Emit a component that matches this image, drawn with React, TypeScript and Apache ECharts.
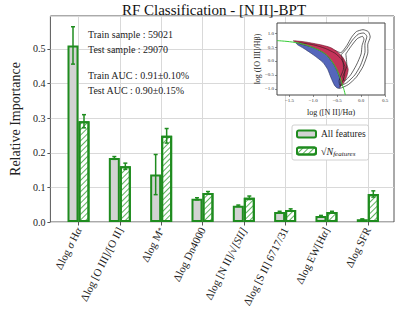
import React, { useEffect, useRef } from "react";
import * as echarts from "echarts";

// ---------- data ----------
const categoryKeys = ["sigma", "o3o2", "mstar", "dn4000", "n2s2", "s2ratio", "ewha", "sfr"];
const categoryLabels = [
  "{n|Δlog }{i|σ}{n| H}{i|α}",
  "{n|Δlog [O III]/[O II]}",
  "{n|Δlog M}{s|*}",
  "{n|Δlog Dn4000}",
  "{n|Δlog [N II]/√}{i|[SII]}",
  "{n|Δlog [S II] 6717/31}",
  "{n|Δlog EW[H}{i|α}{n|]}",
  "{n|Δlog SFR}",
];
const allFeatures = [0.51, 0.185, 0.137, 0.067, 0.047, 0.029, 0.017, 0.008];
const allFeaturesErr = [0.054, 0.004, 0.058, 0.003, 0.002, 0.002, 0.002, 0.001];
const sqrtFeatures = [0.291, 0.161, 0.249, 0.084, 0.07, 0.035, 0.029, 0.081];
const sqrtFeaturesErr = [0.019, 0.009, 0.021, 0.004, 0.005, 0.003, 0.002, 0.009];
const yTicks = [0, 0.1, 0.2, 0.3, 0.4, 0.5];
const annotations = [
  "Train sample : 59021",
  "Test sample : 29070",
  "Train AUC : 0.91±0.10%",
  "Test AUC : 0.90±0.15%",
];

// inset BPT diagram
const insetXTicks = [-1.5, -1.0, -0.5, 0.0, 0.5];
const insetYTicks = [-1.0, -0.5, 0.0, 0.5, 1.0];
const demarcation = [
  [-1.76, 0.73], [-1.55, 0.7], [-1.33, 0.65], [-1.15, 0.57], [-0.99, 0.47], [-0.85, 0.36],
  [-0.74, 0.24], [-0.65, 0.08], [-0.57, -0.12], [-0.51, -0.3], [-0.47, -0.47],
  [-0.43, -0.65], [-0.4, -0.82], [-0.36, -1.02], [-0.33, -1.22],
];
const blueRegion = [
  [-1.36, 0.64], [-1.0, 0.49], [-0.75, 0.26], [-0.58, -0.1], [-0.48, -0.45],
  [-0.42, -0.8], [-0.44, -0.96], [-0.5, -0.97], [-0.56, -0.86], [-0.63, -0.6],
  [-0.7, -0.3], [-0.8, -0.05], [-1.0, 0.22], [-1.2, 0.45], [-1.33, 0.58],
];
const redRegion = [
  [-1.42, 0.72], [-1.2, 0.69], [-1.0, 0.63], [-0.8, 0.56], [-0.64, 0.48],
  [-0.5, 0.33], [-0.38, 0.12], [-0.31, -0.1], [-0.27, -0.3], [-0.3, -0.55],
  [-0.37, -0.8], [-0.45, -0.92], [-0.42, -0.8], [-0.47, -0.47], [-0.57, -0.12],
  [-0.74, 0.24], [-0.99, 0.47], [-1.33, 0.65],
];
const contourOuter = [
  [-0.55, 0.38], [-0.42, 0.3], [-0.3, 0.55], [-0.2, 0.85], [-0.1, 1.05], [0.04, 1.12],
  [0.15, 1.05], [0.19, 0.86], [0.14, 0.6], [0.14, 0.28], [0.04, -0.2], [-0.1, -0.58],
  [-0.27, -0.85], [-0.45, -0.98], [-0.55, -0.86], [-0.48, -0.55], [-0.4, -0.2],
  [-0.45, 0.1], [-0.55, 0.38],
];
const contourMiddle = [
  [-0.42, 0.22], [-0.3, 0.45], [-0.18, 0.75], [-0.06, 0.96], [0.06, 1.0], [0.12, 0.88],
  [0.08, 0.62], [0.08, 0.3], [-0.01, -0.15], [-0.13, -0.5], [-0.3, -0.78], [-0.44, -0.88],
  [-0.46, -0.7], [-0.37, -0.3], [-0.38, 0.0], [-0.42, 0.22],
];
const contourInner = [
  [-0.32, 0.25], [-0.2, 0.55], [-0.08, 0.8], [0.03, 0.88], [0.06, 0.78], [0.02, 0.55],
  [0.0, 0.25], [-0.1, -0.15], [-0.22, -0.5], [-0.35, -0.72], [-0.38, -0.55], [-0.3, -0.2],
  [-0.32, 0.25],
];
const contourSF = [
  [-1.3, 0.66], [-1.0, 0.58], [-0.75, 0.45], [-0.55, 0.28], [-0.42, 0.08], [-0.34, -0.2],
  [-0.35, -0.55], [-0.42, -0.85],
];

// ---------- styles ----------
const SERIF = "'Liberation Serif', 'Times New Roman', serif";
const GREEN = "#1f8c1f";
const BAR_W = 11;

function errorSeries(values: number[], errs: number[], side: number, name: string) {
  return {
    type: "custom",
    name,
    xAxisIndex: 0,
    yAxisIndex: 0,
    z: 4,
    silent: true,
    data: values.map((v, i) => [i, v, errs[i]]),
    renderItem: (params: any, api: any) => {
      const x = api.value(0);
      const y = api.value(1);
      const e = api.value(2);
      const top = api.coord([x, y + e]);
      const bot = api.coord([x, y - e]);
      const cx = top[0] + side * (BAR_W / 2);
      const cap = 2;
      const st = { stroke: GREEN, lineWidth: 1.5 };
      return {
        type: "group",
        children: [
          { type: "line", shape: { x1: cx, y1: top[1], x2: cx, y2: bot[1] }, style: st },
          { type: "line", shape: { x1: cx - cap, y1: top[1], x2: cx + cap, y2: top[1] }, style: st },
          { type: "line", shape: { x1: cx - cap, y1: bot[1], x2: cx + cap, y2: bot[1] }, style: st },
        ],
      };
    },
  };
}

function shapeSeries(pts: number[][], kind: "polygon" | "polyline", style: any, z: number) {
  return {
    type: "custom",
    xAxisIndex: 1,
    yAxisIndex: 1,
    z,
    silent: true,
    clip: true,
    data: [pts[0]],
    renderItem: (params: any, api: any) => {
      const points = pts.map((p) => api.coord(p));
      return {
        type: kind,
        shape: { points, smooth: 0.2 },
        style,
      };
    },
  };
}

export default function App() {
  const ref = useRef<HTMLDivElement>(null);
  useEffect(() => {
    if (!ref.current) return;
    const chart = echarts.init(ref.current, undefined, { renderer: "svg" });
    const catIdx = categoryKeys.map((_, i) => i);
    const contourStyle = { fill: "none", stroke: "#222", lineWidth: 0.7 };
    const option: any = {
      animation: false,
      backgroundColor: "#fff",
      textStyle: { fontFamily: SERIF },
      grid: [
        { left: 34, top: 16, width: 360, height: 206, show: true, borderColor: "#555", borderWidth: 1, backgroundColor: "transparent", z: 0 },
        { left: 277, top: 23, width: 108, height: 72, show: true, borderColor: "#444", borderWidth: 1, backgroundColor: "#fff", z: 5 },
      ],
      xAxis: [
        {
          type: "value", gridIndex: 0, min: -0.68, max: 7.634, z: 1,
          axisLine: { show: false, onZero: false },
          axisTick: { show: true, customValues: catIdx, length: 3.5, lineStyle: { color: "#555" } },
          axisLabel: {
            customValues: catIdx,
            rotate: 63,
            margin: 6,
            formatter: (v: number) => categoryLabels[Math.round(v)],
            rich: {
              n: { fontFamily: SERIF, fontSize: 11, color: "#222" },
              i: { fontFamily: SERIF, fontSize: 11, fontStyle: "italic", color: "#222" },
              s: { fontFamily: SERIF, fontSize: 7.5, color: "#222" },
            },
          },
          splitLine: { show: true, lineStyle: { color: "#d9d9d9", width: 1 } },
        },
        {
          type: "value", gridIndex: 1, min: -1.76, max: 0.5, z: 6,
          axisLine: { show: false, onZero: false },
          axisTick: { show: true, customValues: insetXTicks, length: 2, lineStyle: { color: "#444", width: 0.6 } },
          axisLabel: {
            customValues: insetXTicks, fontSize: 5, margin: 3, color: "#333", fontFamily: SERIF,
            formatter: (v: number) => v.toFixed(1).replace("-", "−"),
          },
          splitLine: { show: false },
          name: "log ([N II]/Hα)", nameLocation: "middle", nameGap: 13,
          nameTextStyle: { fontSize: 8, fontFamily: SERIF, color: "#222" },
        },
      ],
      yAxis: [
        {
          type: "value", gridIndex: 0, min: 0, max: 0.595, interval: 0.1, z: 1,
          axisLine: { show: false, onZero: false },
          axisTick: { show: true, length: 3, lineStyle: { color: "#555" } },
          axisLabel: {
            showMaxLabel: false, fontSize: 10, margin: 5, color: "#222", fontFamily: SERIF,
            formatter: (v: number) => (yTicks.some((t) => Math.abs(t - v) < 1e-6) ? v.toFixed(1) : ""),
          },
          splitLine: { show: true, lineStyle: { color: "#d9d9d9", width: 1 } },
          name: "Relative Importance", nameLocation: "middle", nameGap: 23, nameRotate: 90,
          nameTextStyle: { fontSize: 14, fontFamily: SERIF, color: "#222" },
        },
        {
          type: "value", gridIndex: 1, min: -1.22, max: 1.36, z: 6,
          axisLine: { show: false, onZero: false },
          axisTick: { show: true, customValues: insetYTicks, length: 2, lineStyle: { color: "#444", width: 0.6 } },
          axisLabel: {
            customValues: insetYTicks, fontSize: 5, margin: 3, color: "#333", fontFamily: SERIF,
            formatter: (v: number) => v.toFixed(1).replace("-", "−"),
          },
          splitLine: { show: false },
          name: "log ([O III]/Hβ)", nameLocation: "middle", nameGap: 12, nameRotate: 90,
          nameTextStyle: { fontSize: 8, fontFamily: SERIF, color: "#222" },
        },
      ],
      legend: {
        orient: "vertical",
        left: 292,
        top: 125,
        padding: [4, 3, 3, 4],
        itemGap: 7,
        itemWidth: 19,
        itemHeight: 7,
        backgroundColor: "#fff",
        borderColor: "#d0d0d0",
        borderWidth: 1,
        borderRadius: 2,
        z: 10,
        data: ["All features", "sqrtN"],
        formatter: (name: string) =>
          name === "All features" ? "{t|All features}" : "{r|√}{n|N}{s|features}",
        textStyle: {
          fontFamily: SERIF,
          color: "#222",
          rich: {
            t: { fontSize: 9.5, fontFamily: SERIF, color: "#222" },
            r: { fontSize: 10, fontFamily: SERIF, color: "#222" },
            n: { fontSize: 10, fontFamily: SERIF, fontStyle: "italic", color: "#222" },
            s: { fontSize: 7, fontFamily: SERIF, fontStyle: "italic", color: "#222", padding: [5, 0, 0, 0] },
          },
        },
      },
      series: [
        {
          type: "bar", name: "All features", xAxisIndex: 0, yAxisIndex: 0, z: 3,
          barWidth: BAR_W, barGap: "0%",
          data: allFeatures.map((v, i) => [i, v]),
          itemStyle: { color: "#d3d3d3", borderColor: GREEN, borderWidth: 2 },
        },
        {
          type: "bar", name: "sqrtN", xAxisIndex: 0, yAxisIndex: 0, z: 3,
          barWidth: BAR_W, barGap: "0%",
          data: sqrtFeatures.map((v, i) => [i, v]),
          itemStyle: {
            color: "#ffffff", borderColor: GREEN, borderWidth: 2,
            decal: {
              symbol: "rect", symbolSize: 1, color: "rgba(40,150,40,0.75)", backgroundColor: "#ffffff",
              dashArrayX: [1, 0], dashArrayY: [1, 2.2], rotation: -Math.PI / 4,
            },
          },
        },
        errorSeries(allFeatures, allFeaturesErr, -1, "errAll"),
        errorSeries(sqrtFeatures, sqrtFeaturesErr, 1, "errSqrt"),
        shapeSeries(contourOuter, "polyline", contourStyle, 7),
        shapeSeries(blueRegion, "polygon", { fill: "#5566bb", stroke: "#27305e", lineWidth: 0.6 }, 7),
        shapeSeries(redRegion, "polygon", { fill: "#c5345a", stroke: "#6a1a2a", lineWidth: 0.6 }, 7),
        shapeSeries(contourSF, "polyline", { fill: "none", stroke: "#2a1a1a", lineWidth: 0.6 }, 8),
        shapeSeries(contourMiddle, "polyline", contourStyle, 8),
        shapeSeries(contourInner, "polyline", contourStyle, 8),
        shapeSeries(demarcation, "polyline", { fill: "none", stroke: "#33cc33", lineWidth: 1 }, 9),
      ],
      graphic: [
        {
          type: "text", x: 214, y: 10, z: 20,
          style: { text: "RF Classification - [N II]-BPT", font: `15px ${SERIF}`, fill: "#111", textAlign: "center", textVerticalAlign: "middle" },
        },
        ...annotations.map((t, i) => ({
          type: "text", x: 88, y: [34, 49, 75, 90][i], z: 20,
          style: { text: t, font: `10px ${SERIF}`, fill: "#222", textVerticalAlign: "middle" },
        })),
      ],
    };
    chart.setOption(option);
    return () => chart.dispose();
  }, []);
  return <div ref={ref} style={{ position: "fixed", left: 0, top: 0, width: 399, height: 313 }} />;
}
